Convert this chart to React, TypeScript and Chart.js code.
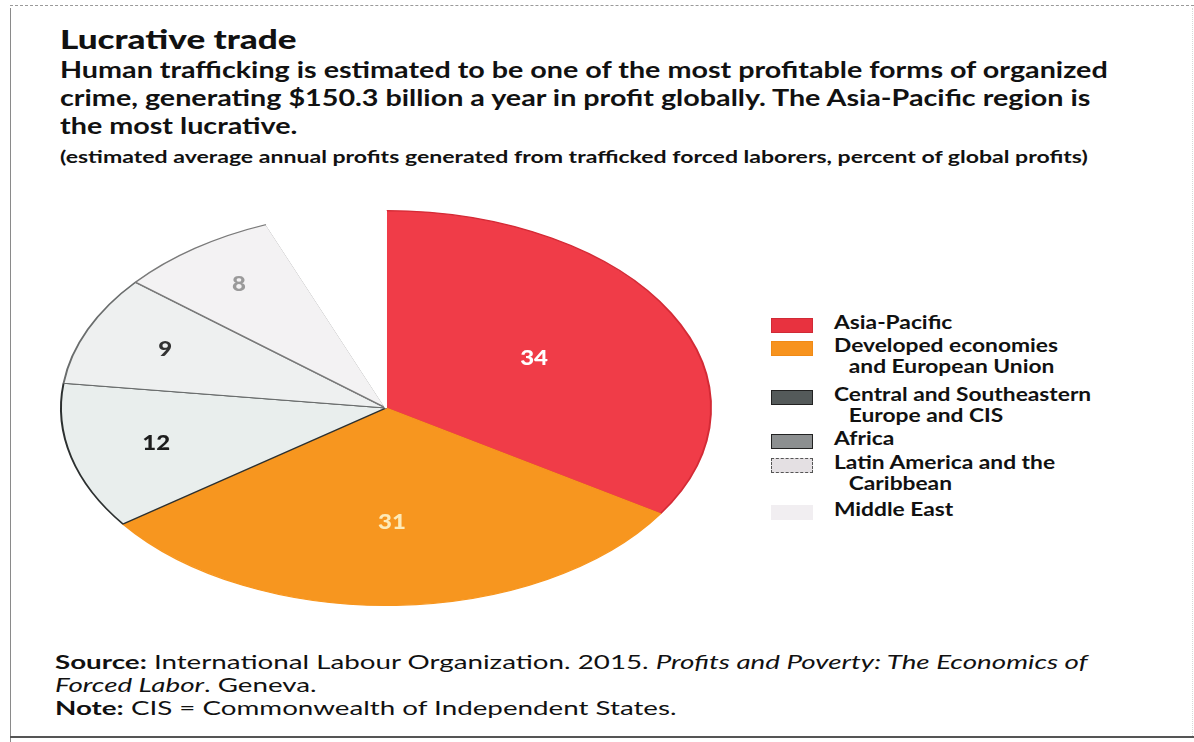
import React, { useEffect, useRef } from "react";
import { Chart, registerables } from "chart.js";

Chart.register(...registerables);

const regions = [
  "Asia-Pacific",
  "Developed economies and European Union",
  "Central and Southeastern Europe and CIS",
  "Africa",
  "Latin America and the Caribbean",
  "Middle East",
];
const legendLines = [
  ["Asia-Pacific"],
  ["Developed economies", "and European Union"],
  ["Central and Southeastern", "Europe and CIS"],
  ["Africa"],
  ["Latin America and the", "Caribbean"],
  ["Middle East"],
];
const shares = [34, 31, 12, 9, 8, 6];
const sliceLabels = ["34", "31", "12", "9", "8", ""];

const sliceColors = ["#f03c48", "#f7961f", "#e9eeed", "#eef0f0", "#f3f2f3", "#ffffff"];
const sliceBorders = ["#d42a35", "#f7961f", "#2c3030", "#6a6d6d", "#7a7a7a", "#ffffff"];
const legendFill = ["#e8323f", "#f7931e", "#545a5a", "#8c8f90", "#e4e0e3", "#f1eef1"];
const legendStroke = ["#d02a36", "#f08a16", "#222", "#222", "#555", "#f1eef1"];
const labelColors = ["#ffffff", "#fdeab8", "#1d1d1d", "#333333", "#9a9a9a", "#000"];
const labelRadius = [0.52, 0.58, 0.73, 0.74, 0.77, 0.7];

const STRETCH = 326 / 198;
const FONT = "Lato, 'Noto Sans', sans-serif";

const ellipsePlugin = {
  id: "ellipse",
  beforeDatasetsDraw(chart: any) {
    const meta = chart.getDatasetMeta(0);
    const el = meta.data[0];
    const ctx = chart.ctx;
    ctx.save();
    ctx.translate(el.x, el.y);
    ctx.scale(STRETCH, 1);
    ctx.translate(-el.x, -el.y);
  },
  afterDatasetsDraw(chart: any) {
    const ctx = chart.ctx;
    ctx.restore();
    const meta = chart.getDatasetMeta(0);
    meta.data.forEach((arc: any, i: number) => {
      const txt = sliceLabels[i];
      if (!txt) return;
      const mid = (arc.startAngle + arc.endAngle) / 2;
      const r = arc.outerRadius * labelRadius[i];
      const px = arc.x + Math.cos(mid) * r * STRETCH;
      const py = arc.y + Math.sin(mid) * r;
      ctx.save();
      ctx.translate(px, py);
      ctx.scale(1.2, 1);
      ctx.font = `900 20px ${FONT}`;
      ctx.fillStyle = labelColors[i];
      ctx.textAlign = "center";
      ctx.textBaseline = "middle";
      ctx.fillText(txt, 0, 0);
      ctx.restore();
    });
  },
};

function PieChart() {
  const ref = useRef<HTMLCanvasElement | null>(null);
  useEffect(() => {
    if (!ref.current) return;
    const chart = new Chart(ref.current, {
      type: "pie",
      data: {
        labels: regions,
        datasets: [
          {
            data: shares,
            backgroundColor: sliceColors,
            borderColor: sliceBorders,
            borderWidth: 1.2,
          },
        ],
      },
      options: {
        animation: false,
        responsive: true,
        maintainAspectRatio: false,
        layout: { padding: { top: 22, bottom: 22, left: 0, right: 0 } },
        plugins: {
          legend: { display: false },
          tooltip: { enabled: false },
        },
      },
      plugins: [ellipsePlugin],
    });
    return () => chart.destroy();
  }, []);
  return <canvas ref={ref} />;
}

const legendTops = [318, 341, 390, 434, 458, 505];

const stretch = (s: number): React.CSSProperties => ({
  transform: `scaleX(${s})`,
  transformOrigin: "0 0",
  whiteSpace: "nowrap",
});

export default function App() {
  return (
    <div
      style={{
        position: "absolute",
        left: 0,
        top: 0,
        width: 1194,
        height: 742,
        background: "#ffffff",
        fontFamily: FONT,
        color: "#111",
        overflow: "hidden",
      }}
    >
      {/* frame */}
      <div style={{ position: "absolute", left: 10, top: 5, width: 1184, borderTop: "1px dashed #9a9a9a" }} />
      <div style={{ position: "absolute", left: 10, top: 8, height: 734, borderLeft: "1px solid #8a8a8a" }} />
      <div style={{ position: "absolute", left: 1192, top: 8, height: 730, borderLeft: "1px dotted #d8d8d8" }} />
      <div style={{ position: "absolute", left: 10, top: 736, width: 1184, borderTop: "2px solid #555" }} />

      <div
        style={{
          position: "absolute",
          left: 60,
          top: 24,
          fontSize: 26,
          fontWeight: 900,
          lineHeight: "30px",
          ...stretch(1.35),
        }}
      >
        Lucrative trade
      </div>
      <div
        style={{
          position: "absolute",
          left: 60,
          top: 55,
          fontSize: 23.5,
          fontWeight: 700,
          lineHeight: "28px",
          ...stretch(1.222),
        }}
      >
        Human trafficking is estimated to be one of the most profitable forms of organized
        <br />
        crime, generating $150.3 billion a year in profit globally. The Asia-Pacific region is
        <br />
        the most lucrative.
      </div>
      <div
        style={{
          position: "absolute",
          left: 60,
          top: 145,
          fontSize: 17.5,
          fontWeight: 700,
          lineHeight: "24px",
          ...stretch(1.317),
        }}
      >
        (estimated average annual profits generated from trafficked forced laborers, percent of global profits)
      </div>

      <div style={{ position: "absolute", left: 36, top: 188, width: 700, height: 440 }}>
        <PieChart />
      </div>

      {legendLines.map((lines, i) => (
        <div key={i}>
          <div
            style={{
              position: "absolute",
              left: 771,
              top: legendTops[i],
              width: 40,
              height: 13,
              background: legendFill[i],
              border: `1.5px ${i === 4 ? "dashed" : "solid"} ${legendStroke[i]}`,
            }}
          />
          <div
            style={{
              position: "absolute",
              left: 834,
              top: legendTops[i] - 6,
              fontSize: 18.5,
              fontWeight: 700,
              lineHeight: "21px",
              ...stretch(1.23),
            }}
          >
            {lines.map((l, j) => (
              <div key={j} style={{ paddingLeft: j > 0 ? 12 : 0 }}>
                {l}
              </div>
            ))}
          </div>
        </div>
      ))}

      <div
        style={{
          position: "absolute",
          left: 55,
          top: 650,
          fontSize: 19,
          lineHeight: "23px",
          ...stretch(1.46),
        }}
      >
        <div>
          <b>Source:</b> International Labour Organization. 2015. <i>Profits and Poverty: The Economics of</i>
        </div>
        <div>
          <i>Forced Labor</i>. Geneva.
        </div>
        <div>
          <b>Note:</b> CIS = Commonwealth of Independent States.
        </div>
      </div>
    </div>
  );
}
